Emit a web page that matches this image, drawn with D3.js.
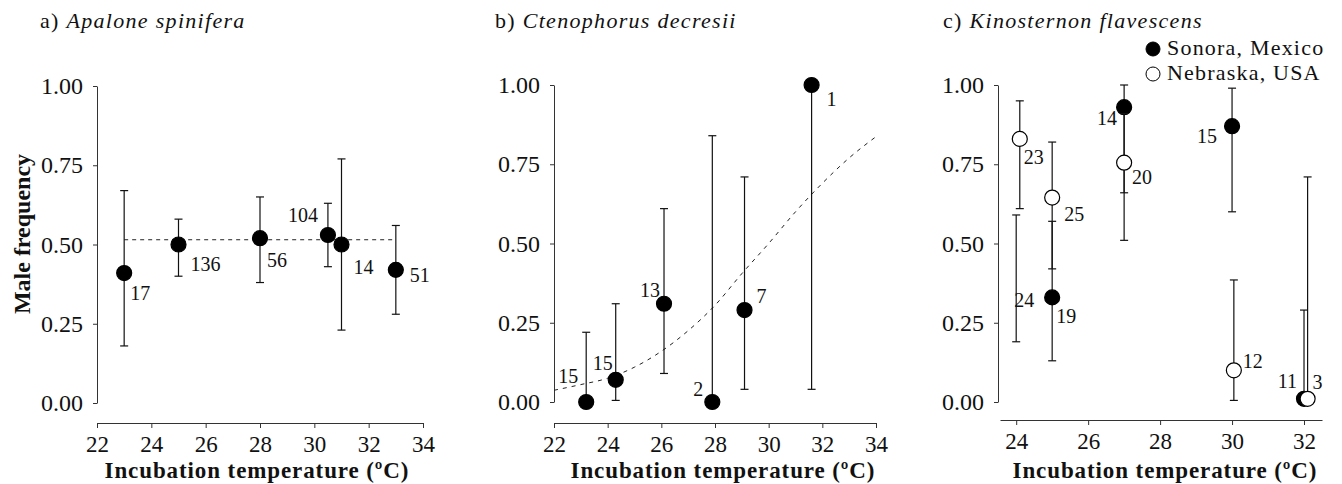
<!DOCTYPE html>
<html>
<head>
<meta charset="utf-8">
<script src="https://cdn.jsdelivr.net/npm/d3@7"></script>
<style>
  body { margin: 0; background: #fff; }
  svg text { font-family: "Liberation Serif", "Times New Roman", serif; fill: #111; }
</style>
</head>
<body>
<svg id="chart" width="1342" height="484"></svg>
<script>
'use strict'

// a) Apalone spinifera
var tempA = [23, 25, 28, 30.5, 31, 33]
var freqA = [0.41, 0.50, 0.52, 0.53, 0.50, 0.42]
var loA = [0.18, 0.40, 0.38, 0.43, 0.23, 0.28]
var hiA = [0.67, 0.58, 0.65, 0.63, 0.77, 0.56]
var nA = ['17', '136', '56', '104', '14', '51']
var meanA = 0.515

// b) Ctenophorus decresii
var tempB = [23.2, 24.3, 26.1, 27.9, 29.1, 31.6]
var freqB = [0.00, 0.07, 0.31, 0.00, 0.29, 1.00]
var loB = [0.00, 0.005, 0.09, 0.00, 0.04, 0.04]
var hiB = [0.22, 0.31, 0.61, 0.84, 0.71, 1.00]
var nB = ['15', '15', '13', '2', '7', '1']
// fitted curve
var fitTemp = [22, 23, 24, 25, 26, 27, 28, 29, 30, 31, 32, 33, 34]
var fitFreq = [0.037, 0.055, 0.075, 0.11, 0.16, 0.225, 0.305, 0.405, 0.50, 0.60, 0.69, 0.77, 0.837]

// c) Kinosternon flavescens
var tempSon = [24, 25, 27, 30, 32]
var freqSon = [null, 0.33, 0.93, 0.87, 0.01]
var loSon = [0.19, 0.13, 0.66, 0.60, 0.00]
var hiSon = [0.59, 0.57, 1.00, 0.99, 0.29]
var nSon = ['24', '19', '14', '15', '11']

var tempNeb = [24.1, 25, 27, 30.05, 32.1]
var freqNeb = [0.83, 0.645, 0.755, 0.10, 0.01]
var loNeb = [0.61, 0.42, 0.51, 0.005, 0.00]
var hiNeb = [0.95, 0.82, 0.91, 0.385, 0.71]
var nNeb = ['23', '25', '20', '12', '3']

var legendLabels = ['Sonora, Mexico', 'Nebraska, USA']

// label offsets from the point: [dx, dy, anchor]
var offA = [[6, 27, 'start'], [12, 26, 'start'], [7, 29, 'start'], [-10, -13, 'end'], [12, 29, 'start'], [14, 12, 'start']]
var offB = [[-8, -19, 'end'], [-3, -10, 'end'], [-4, -7, 'end'], [-9, -6, 'end'], [12, -7, 'start'], [15, 21, 'start']]
var offSon = [[-2, 29, 'start'], [4, 26, 'start'], [-7, 18, 'end'], [-15, 17, 'end'], [-7, -11, 'end']]
var offNeb = [[4, 25, 'start'], [12, 23, 'start'], [8, 21, 'start'], [9, -2, 'start'], [5, -10, 'start']]

var svg = d3.select('#chart')
var R = 7.5

function zip (t, f, lo, hi, n) {
  return t.map((d, i) => ({t: d, f: f[i], lo: lo[i], hi: hi[i], n: n[i]}))
}

function panel (o) {
  var g = svg.append('g')
  var x = d3.scaleLinear().domain(o.xdom).range(o.xr)
  var y = d3.scaleLinear().domain([0, 1]).range(o.yr)

  // y axis
  var ya = g.append('g').attr('transform', `translate(${o.yax},0)`)
    .call(d3.axisLeft(y).tickValues([0, 0.25, 0.5, 0.75, 1]).tickFormat(d3.format('.2f'))
      .tickSize(4).tickSizeOuter(0).tickPadding(10))
  ya.selectAll('text').attr('font-size', 24)
  // x axis
  var xa = g.append('g').attr('transform', `translate(0,${o.xay})`)
    .call(d3.axisBottom(x).tickValues(o.xticks).tickSize(5).tickSizeOuter(0).tickPadding(8))
  xa.selectAll('text').attr('font-size', 23)
  ;[ya, xa].forEach(a => {
    a.selectAll('path, line').attr('stroke', '#333').attr('stroke-width', 1)
    a.selectAll('text').attr('font-family', '"Liberation Serif", serif').attr('fill', '#111')
  })

  g.append('text').attr('x', o.xtitle).attr('y', 478).attr('text-anchor', 'middle')
    .attr('font-size', 23).attr('font-weight', 'bold').attr('letter-spacing', 0.9)
    .text('Incubation temperature (ºC)')

  var title = g.append('text').attr('x', o.titleX).attr('y', 28).attr('font-size', 22)
    .attr('letter-spacing', 1.3)
  title.append('tspan').text(o.letter + ' ')
  title.append('tspan').attr('font-style', 'italic').text(o.species)

  return {g, x, y}
}

function drawSeries (p, data, offs, filled) {
  var g = p.g.append('g')
  data.forEach(d => {
    var cx = p.x(d.t)
    g.append('line').attr('x1', cx).attr('x2', cx).attr('y1', p.y(d.lo)).attr('y2', p.y(d.hi))
      .attr('stroke', '#111').attr('stroke-width', 1.2)
    ;[d.lo, d.hi].forEach(v => {
      g.append('line').attr('x1', cx - 4).attr('x2', cx + 4).attr('y1', p.y(v)).attr('y2', p.y(v))
        .attr('stroke', '#111').attr('stroke-width', 1.2)
    })
  })
  data.forEach((d, i) => {
    var cx = p.x(d.t)
    // no mean drawn -> label sits by the middle of the bar
    var cy = d.f == null ? p.y((d.lo + d.hi) / 2) : p.y(d.f)
    if (d.f != null) {
      g.append('circle').attr('cx', cx).attr('cy', cy).attr('r', R)
        .attr('fill', filled ? '#000' : '#fff').attr('stroke', '#000').attr('stroke-width', 1.2)
    }
    var off = offs[i]
    g.append('text').attr('x', cx + off[0]).attr('y', cy + off[1]).attr('text-anchor', off[2])
      .attr('font-size', 20).text(d.n)
  })
}

// panel a
var pa = panel({xdom: [22, 34], xr: [97, 423], yr: [403, 86], yax: 97, xay: 423,
  xticks: d3.range(22, 35, 2), xtitle: 257, titleX: 40, letter: 'a)', species: 'Apalone spinifera'})
pa.g.append('line').attr('x1', pa.x(23)).attr('x2', pa.x(33)).attr('y1', pa.y(meanA)).attr('y2', pa.y(meanA))
  .attr('stroke', '#222').attr('stroke-dasharray', '4,4')
drawSeries(pa, zip(tempA, freqA, loA, hiA, nA), offA, true)

// the y axis title
svg.append('text').attr('transform', 'translate(30,234) rotate(-90)').attr('text-anchor', 'middle')
  .attr('font-size', 24).attr('font-weight', 'bold').text('Male frequency')

// panel b
var pb = panel({xdom: [22, 34], xr: [554, 876], yr: [402, 85], yax: 554, xay: 423,
  xticks: d3.range(22, 35, 2), xtitle: 723, titleX: 495, letter: 'b)', species: 'Ctenophorus decresii'})
pb.g.append('path').datum(fitTemp.map((t, i) => [t, fitFreq[i]]))
  .attr('d', d3.line().x(d => pb.x(d[0])).y(d => pb.y(d[1])).curve(d3.curveMonotoneX))
  .attr('fill', 'none').attr('stroke', '#222').attr('stroke-dasharray', '4,5')
drawSeries(pb, zip(tempB, freqB, loB, hiB, nB), offB, true)

// panel c
var pc = panel({xdom: [23.55, 32.5], xr: [1000, 1322], yr: [402, 85], yax: 998, xay: 420,
  xticks: d3.range(24, 33, 2), xtitle: 1165, titleX: 943, letter: 'c)', species: 'Kinosternon flavescens'})
drawSeries(pc, zip(tempSon, freqSon, loSon, hiSon, nSon), offSon, true)
drawSeries(pc, zip(tempNeb, freqNeb, loNeb, hiNeb, nNeb), offNeb, false)

// legend
var leg = svg.append('g')
legendLabels.forEach((l, i) => {
  leg.append('circle').attr('cx', 1153).attr('cy', 49 + i * 25).attr('r', 7)
    .attr('fill', i == 0 ? '#000' : '#fff').attr('stroke', '#000').attr('stroke-width', 1)
  leg.append('text').attr('x', 1167).attr('y', 55 + i * 25).attr('font-size', 22)
    .attr('letter-spacing', 1.2).text(l)
})
</script>
</body>
</html>
